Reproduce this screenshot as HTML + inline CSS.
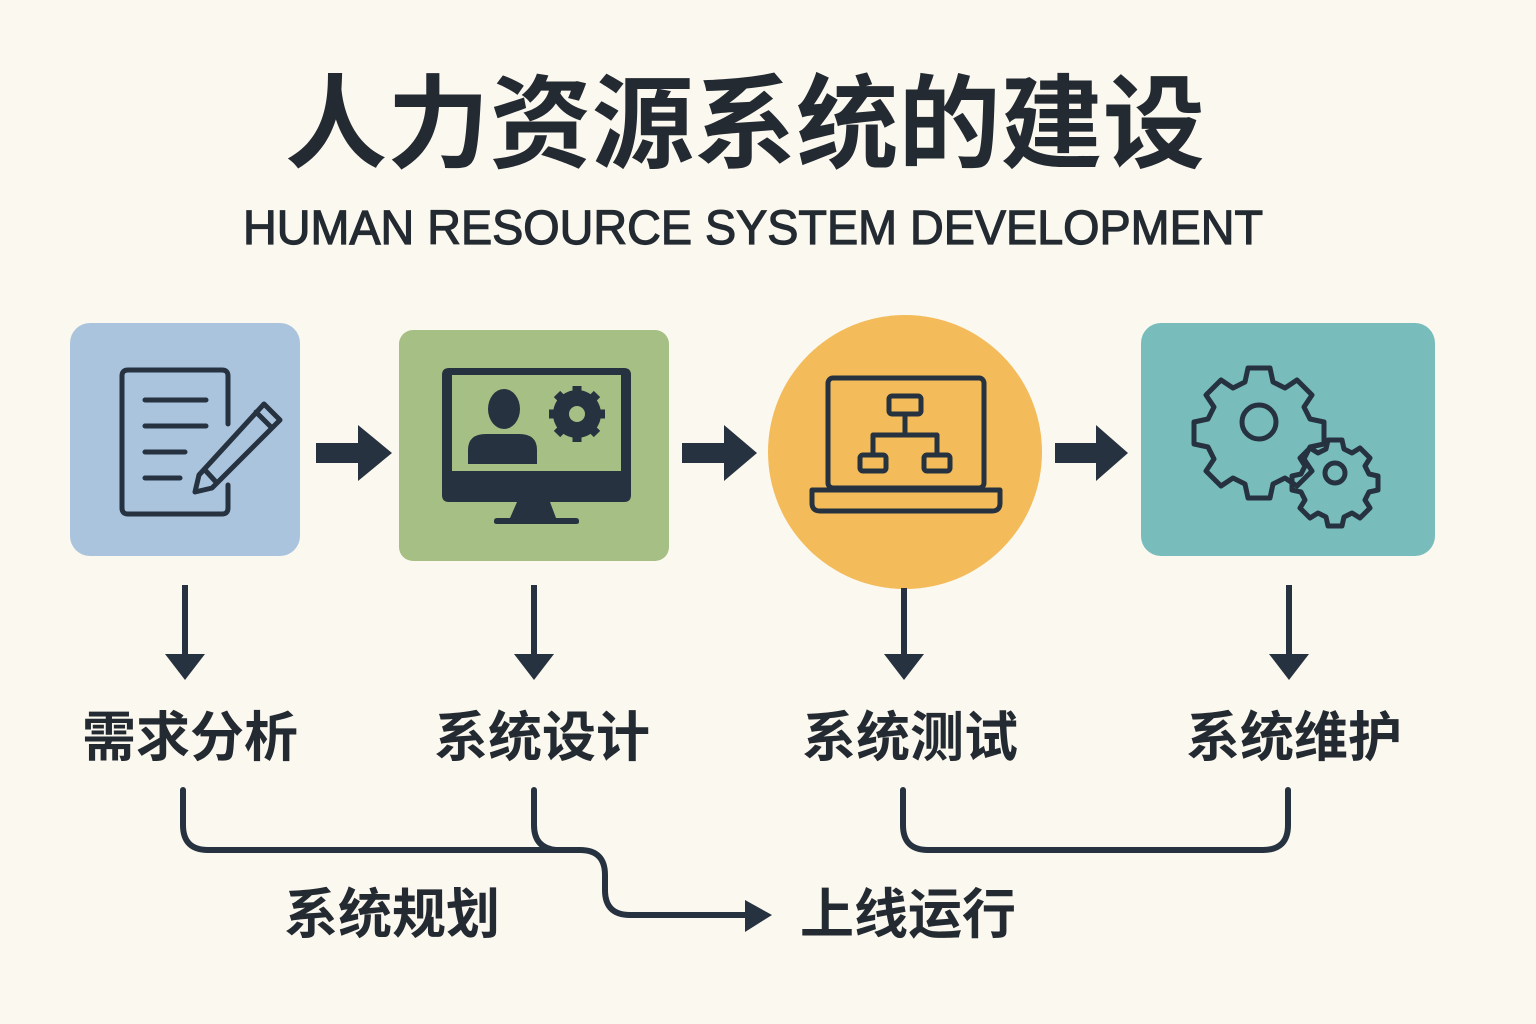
<!DOCTYPE html>
<html><head><meta charset="utf-8"><style>
html,body{margin:0;padding:0;background:#fbf8ef;}
svg{display:block}
text{font-family:"Liberation Sans","Noto Sans CJK SC",sans-serif;fill:#232a31;font-weight:bold}
</style></head><body>
<svg width="1536" height="1024" viewBox="0 0 1536 1024" xmlns="http://www.w3.org/2000/svg">
<rect width="1536" height="1024" fill="#fbf8ef"/>
<text x="745" y="160" font-size="102" text-anchor="middle" textLength="920" lengthAdjust="spacingAndGlyphs">人力资源系统的建设</text>
<text x="753" y="244" font-size="48" text-anchor="middle" textLength="1020" lengthAdjust="spacingAndGlyphs" style="font-weight:normal;stroke:#232a31;stroke-width:1.2">HUMAN RESOURCE SYSTEM DEVELOPMENT</text>

<rect x="70" y="323" width="230" height="233" rx="20" fill="#aac4de"/>
<rect x="399" y="330" width="270" height="231" rx="14" fill="#a6bf84"/>
<circle cx="905" cy="452" r="137" fill="#f3bb5a"/>
<rect x="1141" y="323" width="294" height="233" rx="20" fill="#78bcbb"/>

<g fill="#26323f">
<path d="M316 443 H358 V425 L392 453 L358 481 V463 H316 Z"/>
<path d="M682 443 H724 V425 L757 453 L724 481 V463 H682 Z"/>
<path d="M1055 443 H1096 V425 L1128 453 L1096 481 V463 H1055 Z"/>
<rect x="182" y="585" width="6" height="72"/><path d="M165 654 H205 L185 680 Z"/>
<rect x="531" y="585" width="6" height="72"/><path d="M514 654 H554 L534 680 Z"/>
<rect x="901" y="588" width="6" height="69"/><path d="M884 654 H924 L904 680 Z"/>
<rect x="1286" y="585" width="6" height="72"/><path d="M1269 654 H1309 L1289 680 Z"/>
<path d="M745 900 L772 915 L745 932 Z"/>
</g>

<g fill="none" stroke="#26323f" stroke-width="6" stroke-linecap="round" stroke-linejoin="round">
<path d="M183 790 V825 Q183 850 208 850 H580 Q605 850 605 875 V890 Q605 915 630 915 H748"/>
<path d="M534 790 V825 Q534 848 556 850"/>
<path d="M903 790 V825 Q903 850 928 850 H1263 Q1288 850 1288 825 V790"/>
</g>

<!-- document icon -->
<g fill="none" stroke="#26323f" stroke-width="5" stroke-linecap="round" stroke-linejoin="round">
<path d="M228 424 V376 Q228 370 222 370 H128 Q122 370 122 376 V508 Q122 514 128 514 H222 Q228 514 228 508 V485"/>
<path d="M145 400 H206 M145 426 H206 M145 452 H185 M145 478 H180"/>
<path d="M264 404 L280 420 L212 488 L195 492 L199 475 Z M256 412 L272 428 M205 470 L216 482"/>
</g>
<!-- monitor icon -->
<g fill="#26323f">
<path d="M449 368 H624 Q631 368 631 375 V495 Q631 502 624 502 H449 Q442 502 442 495 V375 Q442 368 449 368 Z M452 375 V471 H621 V375 Z" fill-rule="evenodd"/>
<path d="M517 502 H550 L556 518 H576 Q579 518 579 521 V522 Q579 524 576 524 H497 Q494 524 494 522 V521 Q494 518 497 518 H510 Z"/>
<ellipse cx="504" cy="409" rx="16" ry="20"/>
<path d="M468 464 V450 Q468 434 486 434 H519 Q537 434 537 450 V464 Z"/>
<circle cx="577" cy="414" r="24"/>
</g>
<g stroke="#26323f" stroke-width="9">
<path d="M577 386 V442 M549 414 H605 M557 394 L597 434 M597 394 L557 434"/>
</g>
<circle cx="577" cy="414" r="8" fill="#a6bf84"/>
<!-- laptop icon -->
<g fill="none" stroke="#26323f" stroke-width="5" stroke-linejoin="round">
<rect x="828" y="378" width="156" height="110" rx="5"/>
<path d="M812 490 H1000 V503 Q1000 511 992 511 H820 Q812 511 812 503 Z"/>
<rect x="889" y="396" width="32" height="18" rx="3"/>
<rect x="860" y="455" width="26" height="16" rx="3"/>
<rect x="924" y="455" width="26" height="16" rx="3"/>
<path d="M905 414 V435 M873 455 V435 H937 V455"/>
</g>
<!-- gears icon -->
<g fill="none" stroke="#26323f" stroke-width="5" stroke-linejoin="round">
<path d="M1248 368 h22 l3 14 l12 6 l12 -8 l15 15 l-8 12 l6 12 l14 3 v22 l-14 3 l-6 12 l8 12 l-15 15 l-12 -8 l-12 6 l-3 14 h-22 l-3 -14 l-12 -6 l-12 8 l-15 -15 l8 -12 l-6 -12 l-14 -3 v-22 l14 -3 l6 -12 l-8 -12 l15 -15 l12 8 l12 -6 Z"/>
<circle cx="1259" cy="422" r="17"/>
<path d="M1328 440 h14 l2 9 l8 4 l8 -5 l10 10 l-5 8 l4 8 l9 2 v14 l-9 2 l-4 8 l5 8 l-10 10 l-8 -5 l-8 4 l-2 9 h-14 l-2 -9 l-8 -4 l-8 5 l-10 -10 l5 -8 l-4 -8 l-9 -2 v-14 l9 -2 l4 -8 l-5 -8 l10 -10 l8 5 l8 -4 Z"/>
<circle cx="1335" cy="473" r="10"/>
</g>

<g font-size="54">
<text x="190" y="756" text-anchor="middle">需求分析</text>
<text x="542" y="756" text-anchor="middle">系统设计</text>
<text x="910" y="756" text-anchor="middle">系统测试</text>
<text x="1294" y="756" text-anchor="middle">系统维护</text>
<text x="392" y="933" text-anchor="middle">系统规划</text>
<text x="908" y="933" text-anchor="middle">上线运行</text>
</g>
</svg>
</body></html>
